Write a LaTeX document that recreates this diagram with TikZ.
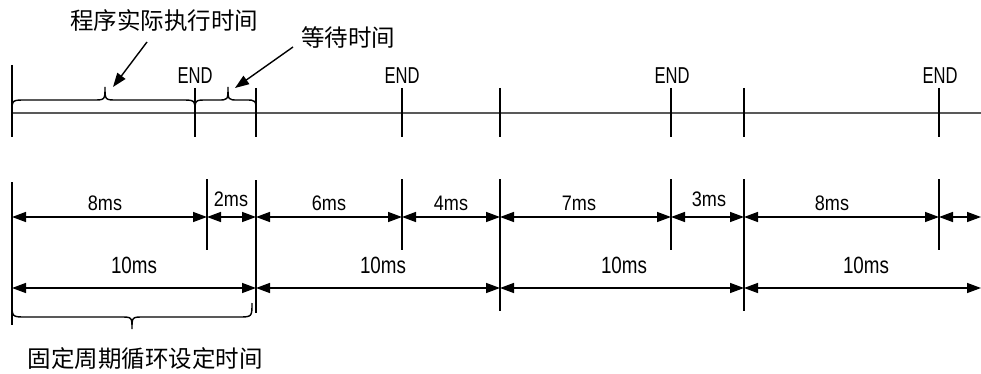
\documentclass[tikz,border=0pt]{standalone}
\usepackage{fontspec}
\usetikzlibrary{arrows.meta}
\newfontfamily\cjk{Noto Sans CJK SC}
\newfontfamily\endfont[FakeStretch=0.72]{Liberation Sans}
\newfontfamily\smallfont[FakeStretch=0.86]{Liberation Sans}
\newfontfamily\bigfont[FakeStretch=0.8]{Liberation Sans}
\tikzset{
  ln/.style={line width=1.4pt, black},
  axis/.style={line width=1.8pt, black!65},
  dim/.style={line width=1.4pt, black, {Triangle[length=14pt,width=10pt]}-{Triangle[length=14pt,width=10pt]}},
  callout/.style={line width=1.4pt, black, -{Triangle[length=14pt,width=10pt]}},
  brace/.style={line width=1.4pt, black},
  endlbl/.style={font=\endfont\fontsize{23}{25}\selectfont, inner sep=0pt},
  lbla/.style={font=\smallfont\fontsize{21}{23}\selectfont, inner sep=0pt},
  lblb/.style={font=\bigfont\fontsize{23.5}{25}\selectfont, inner sep=0pt},
  cjklbl/.style={font=\cjk\fontsize{23.5}{26}\selectfont, inner sep=0pt},
}
\begin{document}
\begin{tikzpicture}[x=1pt,y=-1pt]
\useasboundingbox (0,0) rectangle (981,374);
% timeline
\coordinate (ax0) at (12,113);
\coordinate (ax1) at (981,113);
\draw[axis] (ax0) -- (ax1);
% top ticks
\draw[ln] (12,65) -- (12,137);
\foreach \x in {195,256,402,500,671,744,939}{\draw[ln] (\x,88) -- (\x,137);}
% END labels
\node[endlbl] (e1) at (195,76) {END};
\node[endlbl] (e2) at (402,76) {END};
\node[endlbl] (e3) at (672,76) {END};
\node[endlbl] (e4) at (940,76) {END};
% braces top
\draw[brace] (12,112) .. controls (12,100) .. (26,100) -- (93,100) .. controls (105,100) .. (105,87) .. controls (105,100) .. (117,100) -- (181,100) .. controls (195,100) .. (195,112);
\draw[brace] (195,112) .. controls (195,100) .. (207,100) -- (218,100) .. controls (228,100) .. (228,87) .. controls (228,100) .. (238,100) -- (245,100) .. controls (256,100) .. (256,112);
\coordinate (b1tip) at (113,87);
\coordinate (b2tip) at (235,88);
% callout labels
\node[cjklbl] (t1) at (164,21) {程序实际执行时间};
\node[cjklbl] (t2) at (348,38) {等待时间};
\coordinate (t1a) at (147,42);
\coordinate (t2a) at (293,47);
\draw[callout] (t1a) -- (b1tip);
\draw[callout] (t2a) -- (b2tip);
% lower ticks
\draw[ln] (12,182) -- (12,325);
\draw[ln] (256,180) -- (256,313);
\draw[ln] (500,179) -- (500,311);
\draw[ln] (744,179) -- (744,311);
\foreach \x in {207,402,671,939}{\draw[ln] (\x,179) -- (\x,250);}
% row 1 dimension arrows
\foreach \a/\b/\n in {12/207/r1a,207/256/r1b,256/402/r1c,402/500/r1d,500/671/r1e,671/744/r1f,744/939/r1g,939/981/r1h}{
  \coordinate (\n s) at (\a,217);
  \coordinate (\n e) at (\b,217);
  \draw[dim] (\n s) -- (\n e);
}
\node[lbla] (l1) at (105,203) {8ms};
\node[lbla] (l2) at (231,199) {2ms};
\node[lbla] (l3) at (329,203) {6ms};
\node[lbla] (l4) at (451,203) {4ms};
\node[lbla] (l5) at (579,203) {7ms};
\node[lbla] (l6) at (709,199) {3ms};
\node[lbla] (l7) at (832,203) {8ms};
% row 2 dimension arrows
\foreach \a/\b/\n in {12/256/r2a,256/500/r2b,500/744/r2c,744/981/r2d}{
  \coordinate (\n s) at (\a,288);
  \coordinate (\n e) at (\b,288);
  \draw[dim] (\n s) -- (\n e);
}
\node[lblb] (m1) at (134,265) {10ms};
\node[lblb] (m2) at (383,265) {10ms};
\node[lblb] (m3) at (624,265) {10ms};
\node[lblb] (m4) at (866,265) {10ms};
% bottom brace
\draw[brace] (12,303) .. controls (12,317) .. (26,317) -- (120,317) .. controls (132,317) .. (132,329) .. controls (132,317) .. (144,317) -- (238,317) .. controls (252,317) .. (252,303);
\node[cjklbl] (t3) at (145,359) {固定周期循环设定时间};
\end{tikzpicture}
\end{document}
